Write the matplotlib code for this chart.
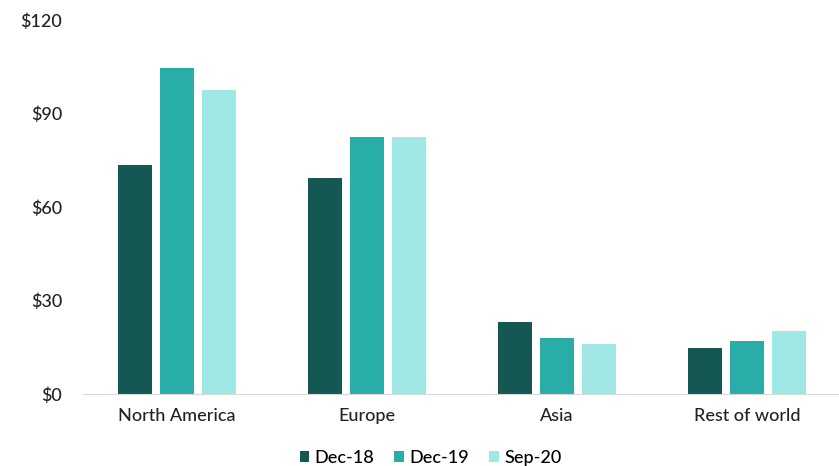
import numpy as np
import matplotlib.pyplot as plt

plt.rcParams['font.family'] = ['Lato', 'DejaVu Sans']

regions = ['North America', 'Europe', 'Asia', 'Rest of world']
series = ['Dec-18', 'Dec-19', 'Sep-20']
dec18 = [73.5, 69.3, 23.1, 14.8]
dec19 = [104.6, 82.4, 18.0, 17.0]
sep20 = [97.5, 82.4, 16.0, 20.2]
colors = ['#155752', '#28ada8', '#a0e8e6']

fig = plt.figure(figsize=(8.39, 4.66), dpi=100)
ax = fig.add_axes([83 / 839, 1 - 394 / 466, 1 - 83 / 839, (394 - 20) / 466])

x = np.arange(len(regions))
width = 0.179
step = 0.221
for i, (vals, name) in enumerate(zip([dec18, dec19, sep20], series)):
    ax.bar(x + (i - 1) * step, vals, width, color=colors[i], label=name)

ax.set_xlim(-0.495, 3.484)
ax.set_ylim(0, 120)
ax.set_yticks([0, 30, 60, 90, 120])
ax.set_yticklabels(['$0', '$30', '$60', '$90', '$120'])
ax.set_xticks(x)
ax.set_xticklabels(regions)

for s in ['top', 'right', 'left']:
    ax.spines[s].set_visible(False)
ax.spines['bottom'].set_color('#d9d9d9')
ax.tick_params(axis='both', length=0, labelsize=13, colors='#222222')
ax.tick_params(axis='y', pad=15)
ax.tick_params(axis='x', pad=10)
for lbl in ax.get_xticklabels() + ax.get_yticklabels():
    lbl.set_fontweight('medium')

leg = ax.legend(loc='upper center', bbox_to_anchor=(0.46, -0.105), ncol=3, frameon=False,
                handlelength=0.55, handleheight=0.55, handletextpad=0.3, columnspacing=1.1,
                fontsize=13)
for t in leg.get_texts():
    t.set_fontweight('medium')

fig.savefig('out.png', dpi=100)
